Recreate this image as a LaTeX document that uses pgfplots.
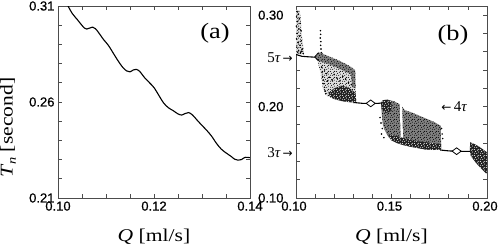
\documentclass[border=0pt]{standalone}
\usepackage{pgfplots}
\pgfplotsset{compat=1.18}
\usetikzlibrary{patterns}
\usepackage{fontspec}
\setmainfont{Liberation Serif}
\newfontfamily\tickfont[FakeBold=0.8]{Liberation Sans}
\newfontfamily\arrfont{DejaVu Sans}
\newfontfamily\labfont[FakeStretch=1.2]{Liberation Serif}
\newcommand\tickf{\tickfont\fontsize{13pt}{15pt}\selectfont}
\newcommand\labf{\labfont\fontsize{18pt}{20pt}\selectfont}
\newcommand\arrf{\arrfont\fontsize{12pt}{12pt}\selectfont}
\pgfdeclarepatternformonly{speckle}{\pgfqpoint{0pt}{0pt}}{\pgfqpoint{6pt}{6pt}}{\pgfqpoint{6pt}{6pt}}{
 \pgfpathcircle{\pgfqpoint{0.7pt}{0.9pt}}{0.6pt}
 \pgfpathcircle{\pgfqpoint{3.1pt}{0.7pt}}{0.6pt}
 \pgfpathcircle{\pgfqpoint{4.9pt}{2.2pt}}{0.6pt}
 \pgfpathcircle{\pgfqpoint{1.8pt}{3.0pt}}{0.6pt}
 \pgfpathcircle{\pgfqpoint{3.9pt}{4.3pt}}{0.6pt}
 \pgfpathcircle{\pgfqpoint{0.7pt}{5.1pt}}{0.6pt}
 \pgfpathcircle{\pgfqpoint{5.3pt}{5.3pt}}{0.6pt}
 \pgfusepath{fill}}
\pgfplotsset{common/.style={
  scale only axis, height=192pt, anchor=south west,
  clip mode=individual,
  axis line style={black!70, line width=0.9pt},
  tick style={black!70, line width=0.8pt},
  tick align=inside, major tick length=4pt, minor tick length=4pt,
  ticklabel style={font=\tickf},
  /pgf/number format/assume math mode=true,
  label style={font=\labf},
  xlabel={{\itshape Q} [ml/s]},
  xlabel style={at={(axis description cs:0.5,-0.224)}, anchor=base},
},
light/.style={fill=black!12, draw=none, postaction={pattern=speckle, pattern color=black}},
mid/.style={fill=black!50, draw=none, postaction={pattern=speckle, pattern color=black}},
dense/.style={fill=black!88, draw=none, postaction={pattern=speckle, pattern color=white}},
}
\begin{document}
\begin{tikzpicture}
\path[use as bounding box] (0,0) rectangle (499pt,244pt);
% ---------------- (a)
\begin{axis}[common, at={(58pt,46pt)}, width=192pt,
  xmin=0.10, xmax=0.14, ymin=0.21, ymax=0.31,
  xtick={0.10,0.12,0.14}, xticklabels={0.10,0.12,0.14},
  minor xtick={0.105,0.11,0.115,0.125,0.13,0.135},
  ytick={0.21,0.26,0.31}, yticklabels={0.21,0.26,0.31},
  minor ytick={0.22,0.23,0.24,0.25,0.27,0.28,0.29,0.30},
  ylabel={{\itshape T}\kern0.03em\raisebox{-0.4ex}{\labfont\fontsize{12pt}{12pt}\selectfont\itshape n} [second]},
  ylabel style={at={(axis description cs:-0.26,0.367)}, anchor=center},
]
\addplot[black, line width=1.1pt, smooth, tension=0.5] coordinates {
(0.1015,0.3135) (0.1021,0.3100) (0.1030,0.3060) (0.1040,0.3030) (0.1048,0.3005)
(0.1055,0.2985) (0.1060,0.2980) (0.1066,0.2985) (0.1072,0.2990) (0.1078,0.2982)
(0.1085,0.2960) (0.1095,0.2925) (0.1105,0.2895) (0.1115,0.2855) (0.1125,0.2815)
(0.1135,0.2780) (0.1143,0.2762) (0.1150,0.2757) (0.1157,0.2767) (0.1163,0.2770)
(0.1170,0.2760) (0.1180,0.2728) (0.1190,0.2702) (0.1200,0.2675) (0.1210,0.2635)
(0.1220,0.2595) (0.1230,0.2570) (0.1240,0.2555) (0.1250,0.2538) (0.1258,0.2532)
(0.1265,0.2540) (0.1272,0.2545) (0.1280,0.2533) (0.1290,0.2505) (0.1300,0.2478)
(0.1310,0.2452) (0.1320,0.2422) (0.1330,0.2385) (0.1340,0.2355) (0.1350,0.2335)
(0.1360,0.2318) (0.1368,0.2302) (0.1375,0.2297) (0.1382,0.2300) (0.1390,0.2312)
(0.1400,0.2310)};
\node[font=\labfont\fontsize{22pt}{24pt}\selectfont] at (rel axis cs:0.818,0.859) {(a)};
\end{axis}
% ---------------- (b)
\begin{axis}[common, at={(296pt,46pt)}, width=191pt,
  xmin=0.10, xmax=0.20, ymin=0.10, ymax=0.31,
  xtick={0.10,0.15,0.20}, xticklabels={0.10,0.15,0.20},
  minor xtick={0.11,0.12,0.13,0.14,0.16,0.17,0.18,0.19},
  ytick={0.10,0.20,0.30}, yticklabels={0.10,0.20,0.30},
  minor ytick={0.12,0.14,0.16,0.18,0.22,0.24,0.26,0.28},
  yticklabel style={xshift=-9pt},
  xticklabel style={xshift=-2pt},
]
% left column cloud
\addplot[light] coordinates {
(0.1000,0.306) (0.1020,0.305) (0.1025,0.295) (0.1030,0.280) (0.1040,0.262) (0.1040,0.257) (0.1000,0.257)} -- cycle;
% upper cloud (overall)
\addplot[light] coordinates {
(0.1105,0.2545) (0.1120,0.2600) (0.1140,0.2580) (0.1180,0.2545) (0.1220,0.2510) (0.1260,0.2470)
(0.1300,0.2420) (0.1310,0.2300) (0.1315,0.2060) (0.1300,0.2045) (0.1250,0.2060) (0.1200,0.2080)
(0.1160,0.2120) (0.1140,0.2200) (0.1130,0.2350) (0.1115,0.2480)} -- cycle;
\addplot[mid] coordinates {
(0.1105,0.2540) (0.1120,0.2590) (0.1140,0.2575) (0.1180,0.2540) (0.1220,0.2505) (0.1260,0.2465)
(0.1300,0.2415) (0.1310,0.2330) (0.1290,0.2350) (0.1250,0.2390) (0.1210,0.2430) (0.1170,0.2465)
(0.1130,0.2490) (0.1110,0.2510)} -- cycle;
\addplot[mid] coordinates {
(0.1285,0.2420) (0.1310,0.2400) (0.1312,0.2200) (0.1295,0.2210) (0.1290,0.2300)} -- cycle;
\addplot[dense] coordinates {
(0.1170,0.2150) (0.1200,0.2200) (0.1240,0.2230) (0.1280,0.2200) (0.1312,0.2150) (0.1315,0.2055)
(0.1290,0.2045) (0.1250,0.2055) (0.1210,0.2075) (0.1180,0.2100)} -- cycle;
% middle cloud
\addplot[mid] coordinates {
(0.1445,0.2040) (0.1455,0.2070) (0.1480,0.2075) (0.1510,0.2060) (0.1540,0.2030) (0.1555,0.2000)
(0.1570,0.1960) (0.1600,0.1940) (0.1640,0.1905) (0.1680,0.1870) (0.1720,0.1835) (0.1758,0.1790)
(0.1760,0.1530) (0.1720,0.1525) (0.1680,0.1530) (0.1640,0.1545) (0.1600,0.1560) (0.1560,0.1580)
(0.1530,0.1600) (0.1500,0.1630) (0.1480,0.1680) (0.1465,0.1740) (0.1455,0.1800) (0.1450,0.1900)} -- cycle;
\addplot[dense] coordinates {
(0.1480,0.1700) (0.1520,0.1680) (0.1560,0.1660) (0.1600,0.1640) (0.1640,0.1620) (0.1680,0.1610)
(0.1720,0.1600) (0.1760,0.1590) (0.1760,0.1530) (0.1720,0.1525) (0.1680,0.1530) (0.1640,0.1545)
(0.1600,0.1560) (0.1560,0.1580) (0.1530,0.1600) (0.1500,0.1630)} -- cycle;
\addplot[dense] coordinates {
(0.1445,0.2040) (0.1455,0.2070) (0.1480,0.2075) (0.1500,0.2060) (0.1500,0.1950) (0.1470,0.1930) (0.1450,0.1960)} -- cycle;
\addplot[fill=white, draw=none] coordinates {
(0.1543,0.2030) (0.1556,0.2010) (0.1560,0.1660) (0.1548,0.1665)} -- cycle;
% right cloud
\addplot[dense] coordinates {
(0.1910,0.1520) (0.1912,0.1610) (0.1935,0.1590) (0.1960,0.1560) (0.2000,0.1500) (0.2000,0.1260)
(0.1970,0.1320) (0.1940,0.1390) (0.1915,0.1460)} -- cycle;
% scattered points
\addplot[only marks, mark=*, mark size=0.55pt, black] coordinates {
(0.1005,0.304) (0.1012,0.301) (0.1003,0.298) (0.1018,0.296) (0.1008,0.293) (0.1022,0.291)
(0.1002,0.288) (0.1015,0.285) (0.1026,0.283) (0.1006,0.280) (0.1019,0.277) (0.1003,0.274)
(0.1028,0.272) (0.1011,0.270) (0.1021,0.267) (0.1004,0.265) (0.1033,0.263) (0.1014,0.261)
(0.1024,0.259) (0.1038,0.258) (0.1009,0.2595) (0.1030,0.2605)
(0.1128,0.283) (0.1129,0.279) (0.1127,0.275) (0.1130,0.271) (0.1129,0.267) (0.1131,0.263)
(0.1133,0.259) (0.1135,0.243) (0.1138,0.238) (0.1140,0.233) (0.1143,0.229) (0.1146,0.225)
(0.1149,0.221) (0.1152,0.217) (0.1155,0.214)
(0.1150,0.240) (0.1160,0.236) (0.1175,0.232) (0.1190,0.229) (0.1165,0.228) (0.1200,0.235)
(0.1215,0.231) (0.1230,0.228) (0.1245,0.233) (0.1260,0.230) (0.1275,0.226) (0.1290,0.224)
(0.1440,0.188) (0.1445,0.182) (0.1452,0.176) (0.1448,0.170) (0.1460,0.166)
(0.1765,0.170) (0.1768,0.165) (0.1762,0.176)};
% stable branches
\addplot[black, line width=1.1pt] coordinates {(0.1000,0.2570) (0.1030,0.2550) (0.1060,0.2545) (0.1100,0.2540)};
\addplot[black, line width=0.9pt] coordinates {(0.1118,0.2590) (0.1098,0.2542) (0.1118,0.2500)};
\addplot[black, line width=1.1pt] coordinates {(0.1300,0.2045) (0.1350,0.2035) (0.1391,0.2035) (0.1430,0.2035) (0.1450,0.2040)};
\addplot[black, line width=1.1pt] coordinates {(0.1755,0.1525) (0.1800,0.1515) (0.1841,0.1512) (0.1880,0.1510) (0.1912,0.1510)};
\addplot[only marks, mark=diamond*, mark size=4.5pt, mark options={fill=white, draw=black, line width=0.8pt, rotate=90}] coordinates {(0.1391,0.2035) (0.1841,0.1512)};
\node[font=\labfont\fontsize{22pt}{24pt}\selectfont] at (rel axis cs:0.822,0.849) {(b)};
\node[anchor=east, inner sep=0pt, xshift=-3pt, font=\fontsize{15pt}{15pt}\selectfont] at (axis cs:0.10,0.253) {5{\itshape τ}\,{\arrf →}};
\node[anchor=east, inner sep=0pt, xshift=-3pt, font=\fontsize{15pt}{15pt}\selectfont] at (axis cs:0.10,0.150) {3{\itshape τ}\,{\arrf →}};
\node[anchor=west, inner sep=0pt, font=\fontsize{15pt}{15pt}\selectfont] at (axis cs:0.176,0.200) {{\arrf ←}\,4{\itshape τ}};
\end{axis}
\end{tikzpicture}
\end{document}
